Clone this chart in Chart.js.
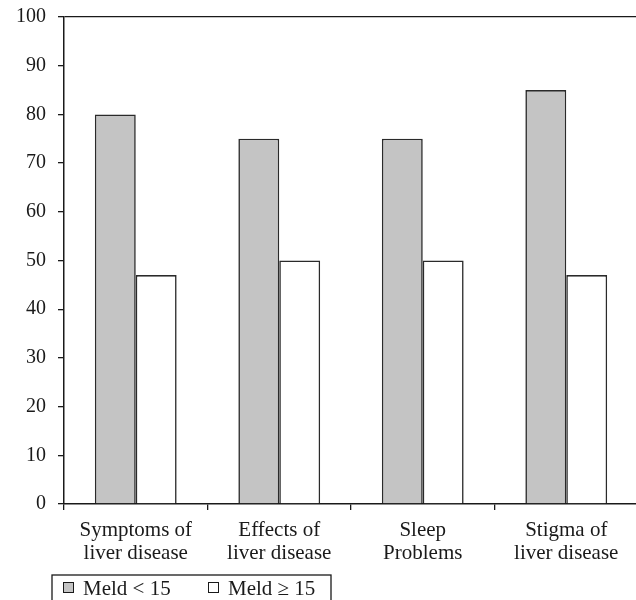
<!DOCTYPE html>
<html>
<head>
<meta charset="utf-8">
<script src="https://cdn.jsdelivr.net/npm/chart.js@4"></script>
<style>
  html, body { margin: 0; padding: 0; background: #fff; overflow: hidden; }
  #wrap { width: 645px; height: 600px; }
</style>
</head>
<body>
<div id="wrap"><canvas id="meldChart"></canvas></div>
<script>
const categories = [
  ["Symptoms of", "liver disease"],
  ["Effects of", "liver disease"],
  ["Sleep", "Problems"],
  ["Stigma of", "liver disease"]
];
const seriesNames = ["Meld < 15", "Meld \u2265 15"];
const meldLow = [80, 75, 75, 85];    // Meld < 15
const meldHigh = [47, 50, 50, 47];   // Meld >= 15
const yTicks = [0, 10, 20, 30, 40, 50, 60, 70, 80, 90, 100];

const ink = "#1a1a1a";
const serif = "'Liberation Serif', 'DejaVu Serif', serif";

// legend drawn as a framed box under the axis
const boxLegend = {
  id: "boxLegend",
  afterDraw(chart) {
    const ctx = chart.ctx;
    const x0 = 52, y0 = 575, w = 279, h = 30;
    ctx.save();
    ctx.strokeStyle = ink;
    ctx.lineWidth = 1.3;
    ctx.strokeRect(x0, y0, w, h);
    ctx.font = "21px " + serif;
    ctx.fillStyle = ink;
    ctx.textBaseline = "middle";
    const starts = [63, 208];
    chart.data.datasets.forEach((ds, i) => {
      const sx = starts[i];
      ctx.fillStyle = ds.backgroundColor;
      ctx.fillRect(sx, 582, 11, 11);
      ctx.strokeStyle = ink;
      ctx.lineWidth = 1;
      ctx.strokeRect(sx + 0.5, 582.5, 10, 10);
      ctx.fillStyle = ink;
      ctx.fillText(ds.label, sx + 20, 589);
    });
    ctx.restore();
  }
};

new Chart(document.getElementById("meldChart"), {
  type: "bar",
  data: {
    labels: categories,
    datasets: [
      {
        label: seriesNames[0],
        data: meldLow,
        backgroundColor: "#c4c4c4",
        borderColor: "#2a2a2a",
        borderWidth: 1.6,
        categoryPercentage: 0.57,
        barPercentage: 1.0
      },
      {
        label: seriesNames[1],
        data: meldHigh,
        backgroundColor: "#ffffff",
        borderColor: "#2a2a2a",
        borderWidth: 1.6,
        categoryPercentage: 0.57,
        barPercentage: 1.0
      }
    ]
  },
  options: {
    responsive: true,
    maintainAspectRatio: false,
    animation: false,
    layout: { padding: { top: 17, right: 7, bottom: 0, left: 0 } },
    plugins: {
      legend: { display: false },
      tooltip: { enabled: false }
    },
    scales: {
      x: {
        offset: true,
        grid: { offset: true, drawOnChartArea: false, tickLength: 6, color: ink, lineWidth: 1.3 },
        border: { display: true, color: ink, width: 1.5 },
        ticks: {
          color: ink,
          padding: 9,
          maxRotation: 0,
          font: { family: serif, size: 21, lineHeight: 1.08 }
        },
        afterFit(scale) { scale.height = 96; }
      },
      y: {
        min: 0,
        max: 100,
        afterBuildTicks(scale) { scale.ticks = yTicks.map(v => ({ value: v })); },
        grid: {
          drawOnChartArea: true,
          color: c => (c.tick && c.tick.value === 100 ? ink : "rgba(0,0,0,0)"),
          tickColor: ink,
          tickLength: 6,
          lineWidth: 1.3
        },
        border: { display: true, color: ink, width: 1.5 },
        ticks: {
          color: ink,
          padding: 12,
          font: { family: serif, size: 20 }
        },
        afterFit(scale) {
          scale.width = 64;
          scale.paddingTop = 0;
          scale.paddingBottom = 0;
        }
      }
    }
  },
  plugins: [boxLegend]
});
</script>
</body>
</html>
